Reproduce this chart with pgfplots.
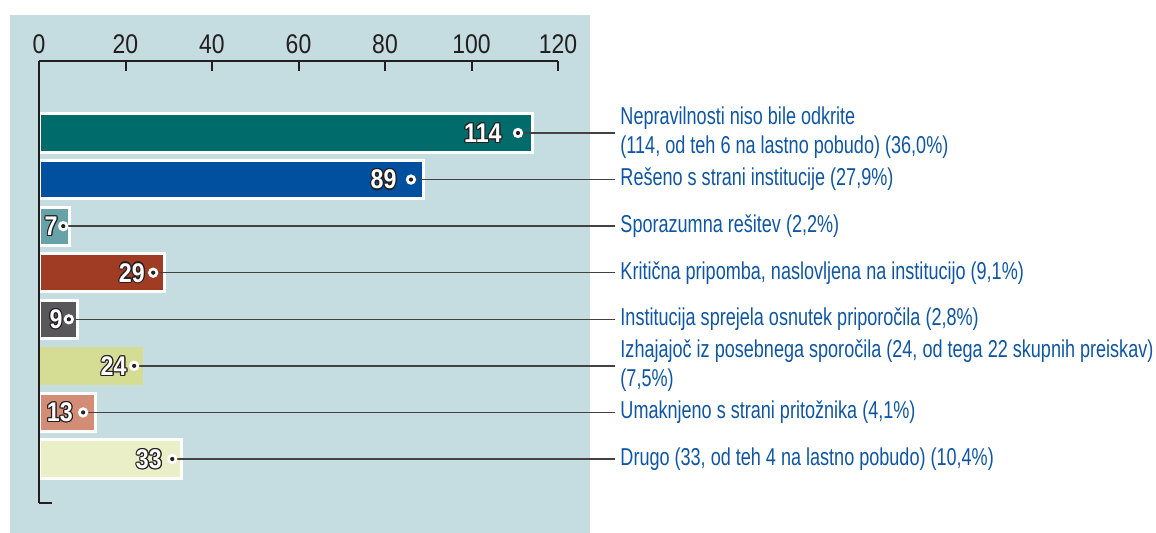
\documentclass[border=0pt]{standalone}
\usepackage{fontspec}
\setmainfont{Liberation Sans}[FakeStretch=0.74]
\newfontfamily\tickfont{Liberation Sans}[FakeStretch=0.85]
\newfontfamily\numfont{Liberation Sans}[FakeStretch=0.86]
\usepackage{pgfplots}
\pgfplotsset{compat=1.18}

\definecolor{panel}{HTML}{C5DCE0}
\definecolor{txtblue}{HTML}{0F56A2}
\definecolor{axisdark}{HTML}{231F20}
\definecolor{cA}{HTML}{006B6B}
\definecolor{cB}{HTML}{0050A0}
\definecolor{cC}{HTML}{67A2A8}
\definecolor{cD}{HTML}{A03C24}
\definecolor{cE}{HTML}{58585A}
\definecolor{cF}{HTML}{D5DC93}
\definecolor{cG}{HTML}{D38C76}
\definecolor{cH}{HTML}{EAEFC8}

% white number with a dark outline, right-aligned #4 before the dot
\newcommand{\numlab}[4]{%
  \node[numstyle,text=axisdark,xshift=-#4+0.6pt] at (axis cs:#1,#2) {#3};
  \node[numstyle,text=axisdark,xshift=-#4-0.6pt] at (axis cs:#1,#2) {#3};
  \node[numstyle,text=axisdark,xshift=-#4,yshift=0.6pt] at (axis cs:#1,#2) {#3};
  \node[numstyle,text=axisdark,xshift=-#4,yshift=-0.6pt] at (axis cs:#1,#2) {#3};
  \node[numstyle,text=axisdark,xshift=-#4+0.45pt,yshift=0.45pt] at (axis cs:#1,#2) {#3};
  \node[numstyle,text=axisdark,xshift=-#4-0.45pt,yshift=0.45pt] at (axis cs:#1,#2) {#3};
  \node[numstyle,text=axisdark,xshift=-#4+0.45pt,yshift=-0.45pt] at (axis cs:#1,#2) {#3};
  \node[numstyle,text=axisdark,xshift=-#4-0.45pt,yshift=-0.45pt] at (axis cs:#1,#2) {#3};
  \node[numstyle,text=white,xshift=-#4] at (axis cs:#1,#2) {#3};
  \draw[leader] (axis cs:#1,#2) -- (axis cs:133.2,#2);
  \fill[white] (axis cs:#1,#2) circle[radius=2.6pt];
  \fill[axisdark] (axis cs:#1,#2) circle[radius=1.05pt];
}

\begin{document}
\begin{tikzpicture}[
  numstyle/.style={anchor=east,inner sep=0pt,font=\numfont\bfseries\fontsize{13.5}{15}\selectfont},
  leader/.style={draw=axisdark!85,line width=0.75pt},
  catlab/.style={anchor=west,inner sep=0pt,align=left,text=txtblue,
    font=\fontsize{12.2}{14.5}\selectfont},
]
\useasboundingbox (0,0) rectangle (578pt,-266.5pt);
\fill[panel] (5pt,-7.5pt) rectangle (295pt,-266.5pt);

\begin{axis}[
  at={(19.5pt,-251.5pt)}, anchor=south west,
  scale only axis,
  width=259.5pt, height=221pt,
  xmin=0, xmax=120,
  ymin=-0.546, ymax=8.945,
  y dir=reverse,
  axis x line*=top,
  axis y line*=left,
  axis on top,
  axis line style={draw=axisdark,line width=1pt},
  xtick={0,20,40,60,80,100,120},
  ytick=\empty,
  tick align=inside,
  major tick length=5pt,
  tick style={draw=axisdark,line width=1pt},
  xticklabel style={font=\tickfont\fontsize{13.5}{15}\selectfont,text=axisdark},
  /pgf/number format/assume math mode=true,
  clip=false,
  xbar,
  bar width=0.82,
  bar shift=0pt,
]
\addplot[fill=cA,draw=white,line width=1.5pt] coordinates {(114,1)};
\addplot[fill=cB,draw=white,line width=1.5pt] coordinates {(89,2)};
\addplot[fill=cC,draw=white,line width=1.5pt] coordinates {(7,3)};
\addplot[fill=cD,draw=white,line width=1.5pt] coordinates {(29,4)};
\addplot[fill=cE,draw=white,line width=1.5pt] coordinates {(9,5)};
\addplot[fill=cF,draw=none] coordinates {(24,6)};
\addplot[fill=cG,draw=white,line width=1.5pt] coordinates {(13,7)};
\addplot[fill=cH,draw=white,line width=1.5pt] coordinates {(33,8)};

\numlab{110.75}{1}{114}{8pt}
\numlab{86}{2}{89}{7pt}
\numlab{5.6}{3}{7}{2.6pt}
\numlab{26.4}{4}{29}{4pt}
\numlab{6.9}{5}{9}{3pt}
\numlab{22}{6}{24}{3.6pt}
\numlab{10.2}{7}{13}{5pt}
\numlab{30.8}{8}{33}{5pt}

\draw[draw=axisdark,line width=1pt] (axis cs:-0.1,8.945) -- (axis cs:3,8.945);

\node[catlab] at (axis cs:134.35,1) {Nepravilnosti niso bile odkrite\\(114, od teh 6 na lastno pobudo) (36,0\%)};
\node[catlab] at (axis cs:134.35,2) {Rešeno s strani institucije (27,9\%)};
\node[catlab] at (axis cs:134.35,3) {Sporazumna rešitev (2,2\%)};
\node[catlab] at (axis cs:134.35,4) {Kritična pripomba, naslovljena na institucijo (9,1\%)};
\node[catlab] at (axis cs:134.35,5) {Institucija sprejela osnutek priporočila (2,8\%)};
\node[catlab] at (axis cs:134.35,6) {Izhajajoč iz posebnega sporočila (24, od tega 22 skupnih preiskav)\\(7,5\%)};
\node[catlab] at (axis cs:134.35,7) {Umaknjeno s strani pritožnika (4,1\%)};
\node[catlab] at (axis cs:134.35,8) {Drugo (33, od teh 4 na lastno pobudo) (10,4\%)};
\end{axis}
\end{tikzpicture}
\end{document}
